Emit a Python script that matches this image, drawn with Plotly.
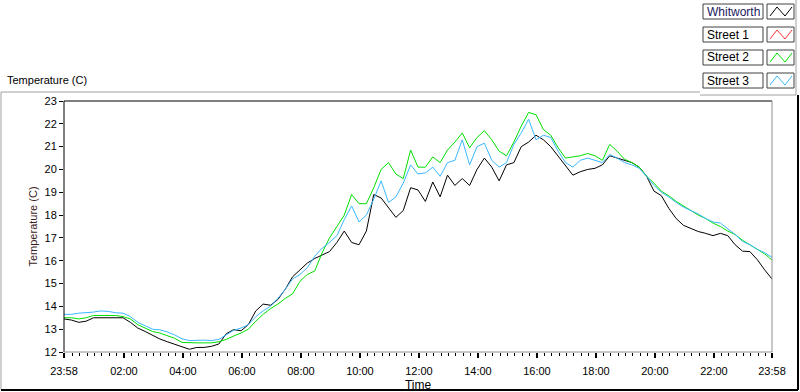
import plotly.graph_objects as go

# ---- data (minutes after 23:58, 15-min samples) ----
minutes = list(range(0, 1441, 15))

whitworth = [13.45, 13.4, 13.3, 13.35, 13.5, 13.5, 13.5, 13.5, 13.5, 13.3,
             13.05, 12.9, 12.72, 12.57, 12.45, 12.35, 12.22, 12.12, 12.2, 12.2,
             12.25, 12.35, 12.8, 12.98, 12.93, 13.2, 13.8, 14.1, 14.05, 14.3,
             14.75, 15.3, 15.6, 15.9, 16.1, 16.25, 16.4, 16.8, 17.3, 16.8,
             16.7, 17.3, 18.9, 18.75, 18.3, 17.9, 18.2, 19.2, 19.1, 18.6,
             19.45, 18.8, 19.75, 19.3, 19.6, 19.3, 20.0, 20.5, 20.1, 19.5,
             20.2, 20.3, 21.0, 21.2, 21.5, 21.3, 21.0, 20.6, 20.2, 19.75,
             19.9, 20.0, 20.05, 20.2, 20.6, 20.5, 20.4, 20.3, 20.1, 19.7,
             19.05, 18.85, 18.3, 17.85, 17.55, 17.4, 17.28, 17.2, 17.1, 17.2,
             17.1, 16.7, 16.42, 16.4, 16.05, 15.6, 15.2]

street1 = []  # no samples shown

street2 = [13.5, 13.5, 13.45, 13.5, 13.6, 13.6, 13.6, 13.6, 13.55, 13.45,
           13.2, 13.05, 12.9, 12.83, 12.72, 12.6, 12.42, 12.4, 12.4, 12.4,
           12.4, 12.45, 12.55, 12.7, 12.83, 13.0, 13.35, 13.65, 13.9, 14.1,
           14.35, 14.55, 15.1, 15.4, 15.55, 16.35, 17.0, 17.5, 18.0, 18.9,
           18.5, 18.5, 19.2, 20.0, 20.3, 19.8, 19.6, 20.85, 20.1, 20.1,
           20.55, 20.3, 20.85, 21.2, 21.6, 20.95, 21.4, 21.7, 21.3, 20.8,
           20.6, 21.2, 21.9, 22.5, 22.4, 21.75, 21.5, 20.95, 20.5, 20.55,
           20.6, 20.7, 20.6, 20.4, 21.1, 20.8, 20.45, 20.3, 20.1, 19.7,
           19.4, 19.05, 18.85, 18.6, 18.4, 18.2, 18.0, 17.85, 17.65, 17.5,
           17.3, 17.15, 16.9, 16.7, 16.5, 16.3, 16.03]

street3 = [13.65, 13.65, 13.7, 13.72, 13.75, 13.8, 13.78, 13.72, 13.7, 13.55,
           13.3, 13.15, 13.0, 12.97, 12.88, 12.75, 12.58, 12.5, 12.52, 12.52,
           12.5, 12.55, 12.75, 12.95, 13.05, 13.2, 13.55, 13.8, 14.0, 14.35,
           14.75, 15.2, 15.4, 15.7, 16.2, 16.55, 16.8, 17.1, 17.8, 18.4,
           17.7, 18.0, 18.7, 19.5, 18.55, 18.8, 19.4, 20.2, 19.8, 19.85,
           20.1, 19.7, 20.3, 20.4, 21.3, 20.2, 21.0, 21.15, 20.4, 20.1,
           20.3, 21.1, 21.6, 22.2, 21.3, 21.5, 21.4, 20.8, 20.3, 20.1,
           20.4, 20.5, 20.4, 20.3, 20.65, 20.5, 20.3, 20.2, 20.05, 19.7,
           19.3, 19.0, 18.8, 18.55, 18.35, 18.2, 18.05, 17.85, 17.7, 17.65,
           17.4, 17.15, 16.85, 16.7, 16.5, 16.35, 16.15]

tick_minutes = [0, 122, 242, 362, 482, 602, 722, 842, 962, 1082, 1202, 1322, 1440]
tick_labels = ["23:58", "02:00", "04:00", "06:00", "08:00", "10:00", "12:00",
               "14:00", "16:00", "18:00", "20:00", "22:00", "23:58"]

series_names = ["Whitworth", "Street 1", "Street 2", "Street 3"]
series_colors = ["#000000", "#ff3333", "#00e000", "#3ab8ff"]
series_data = [whitworth, street1, street2, street3]

FONT = "Liberation Sans"

# pixel geometry
L, R, T, B = 64, 772, 101, 352
W, H = 800, 392


def px(x):
    return (x - L) / (R - L)


def py(y):
    return (B - y) / (B - T)


fig = go.Figure()
for name, col, vals in zip(series_names, series_colors, series_data):
    fig.add_trace(go.Scatter(x=minutes[:len(vals)], y=vals, mode="lines",
                             name=name, line=dict(color=col, width=1),
                             showlegend=False, hoverinfo="skip"))

shapes = []


def line(x0, y0, x1, y1, color, width=1):
    shapes.append(dict(type="line", xref="paper", yref="paper",
                       x0=px(x0), y0=py(y0), x1=px(x1), y1=py(y1),
                       line=dict(color=color, width=width), layer="above"))


# plot area border
line(L, T, R, T, "#000000")
line(L, T, L, B, "#000000")
line(R, T, R, B, "#909090")
line(L, B, R, B, "#909090")

# outer frame
line(1, 92, 700, 92, "#a0a0a0")
line(1, 92, 1, 390, "#a0a0a0")
line(1, 390, 798, 390, "#000000", 2)
line(798, 95, 798, 390, "#000000", 2)
line(700, 95, 796, 95, "#a0a0a0")
line(796, 0, 796, 95, "#a0a0a0")

annotations = []
# legend
for i, (name, col) in enumerate(zip(series_names, series_colors)):
    top = 4 + 23 * i
    bot = top + 15
    shapes.append(dict(type="rect", xref="paper", yref="paper",
                       x0=px(703), x1=px(763), y0=py(bot), y1=py(top),
                       line=dict(color="#404040", width=1), fillcolor="white"))
    shapes.append(dict(type="rect", xref="paper", yref="paper",
                       x0=px(767), x1=px(794), y0=py(bot), y1=py(top),
                       line=dict(color="#404040", width=1), fillcolor="white"))
    pts = [(770, bot - 3), (777, top + 3), (785, bot - 3), (792, top + 3)]
    path = "M " + " L ".join(f"{px(a)},{py(b)}" for a, b in pts)
    shapes.append(dict(type="path", xref="paper", yref="paper", path=path,
                       line=dict(color=col, width=1)))
    annotations.append(dict(x=px(705), y=py((top + bot) / 2), xref="paper",
                            yref="paper", text=name, showarrow=False,
                            xanchor="left", yanchor="middle",
                            font=dict(family=FONT, size=12,
                                      color="#1a1a60" if i == 0 else "#000000")))

annotations.append(dict(x=px(5), y=py(80), xref="paper", yref="paper",
                        text="Temperature (C)", showarrow=False,
                        xanchor="left", yanchor="middle",
                        font=dict(family=FONT, size=11, color="#000000")))

fig.update_layout(
    width=W, height=H,
    margin=dict(l=L, r=W - R, t=T, b=H - B, autoexpand=False),
    paper_bgcolor="white", plot_bgcolor="white",
    font=dict(family=FONT, size=11, color="#000000"),
    shapes=shapes, annotations=annotations,
    hovermode=False,
    xaxis=dict(range=[0, 1440], tickmode="array", tickvals=tick_minutes,
               ticktext=tick_labels, ticks="outside", ticklen=5, tickwidth=2,
               tickcolor="#000000", showgrid=False, zeroline=False,
               showline=False, ticklabelstandoff=4, automargin=False,
               minor=dict(tickmode="linear", tick0=2, dtick=15,
                          ticks="outside", ticklen=3, tickwidth=1,
                          tickcolor="#000000", showgrid=False),
               title=dict(text="Time", standoff=5,
                          font=dict(family=FONT, size=12))),
    yaxis=dict(range=[12, 23], dtick=1, tick0=12, ticks="outside", ticklen=4,
               tickcolor="#000000", showgrid=False, zeroline=False,
               showline=False, automargin=False,
               title=dict(text="Temperature (C)", standoff=4,
                          font=dict(family=FONT, size=11, color="#3a1a1a"))),
)

fig.write_html("out.html",
               config={"displayModeBar": False, "staticPlot": True},
               post_script="document.body.style.margin='0';"
                           "document.body.style.overflow='hidden';")
